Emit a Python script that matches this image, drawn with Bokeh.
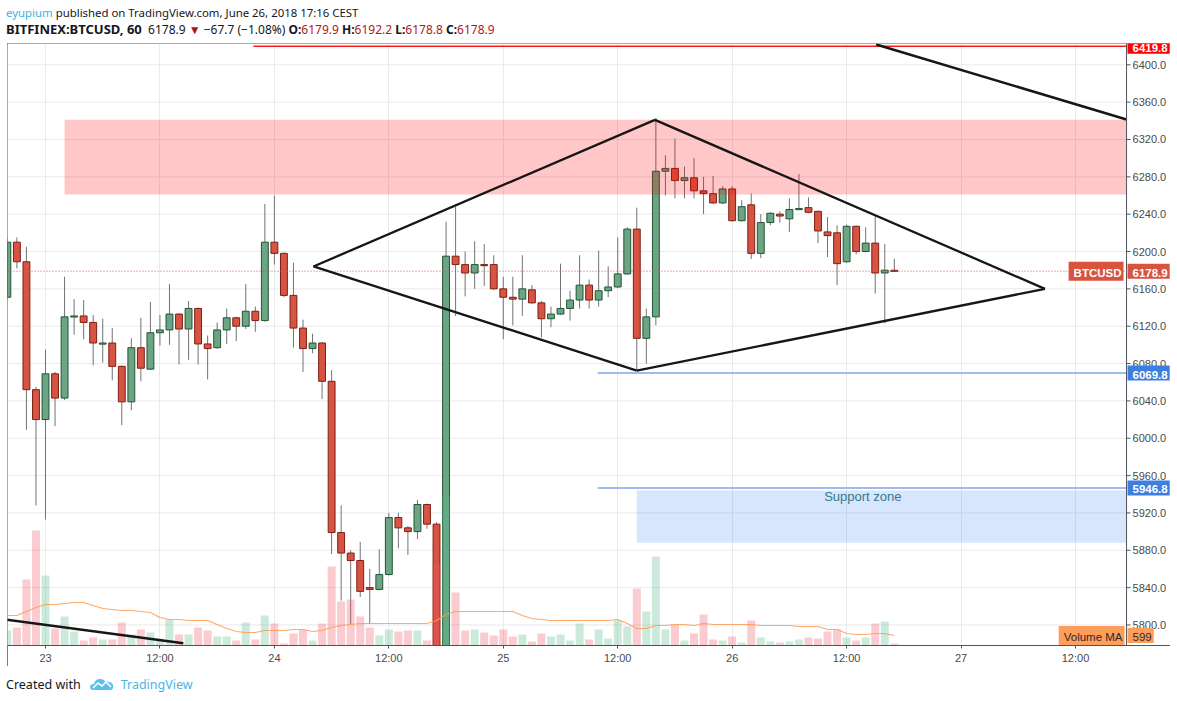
from bokeh.plotting import figure
from bokeh.models import (Range1d, FixedTicker, Label, Div, ColumnDataSource, Span)
from bokeh.layouts import column
from bokeh.embed import file_html
from bokeh.resources import INLINE
from bokeh.core.properties import value

# ---------------- data (hours counted from June 23, 00:00) ----------------
hours = list(range(-4, 90))
opens = [6151, 6210, 6189, 6052, 6020, 6069, 6043, 6130, 6131, 6124, 6101, 6102, 6077, 6039,
         6097, 6074, 6113, 6116, 6133, 6117, 6139, 6101, 6097, 6116, 6129, 6120, 6136, 6126,
         6210, 6198, 6153, 6118, 6096, 6102, 6061, 5899, 5877, 5869, 5840, 5838, 5854, 5915,
         5904, 5900, 5929, 5908, 5760, 6195, 6186, 6177, 6186, 6186, 6160, 6151, 6149, 6159,
         6145, 6128, 6133, 6139, 6148, 6164, 6148, 6158, 6162, 6176, 6224, 6107, 6130, 6286,
         6289, 6276, 6279, 6265, 6262, 6252, 6267, 6233, 6250, 6198, 6231, 6240, 6235, 6245,
         6247, 6243, 6221, 6220, 6189, 6227, 6200, 6209, 6177, 6179.9]
highs = [6215, 6215, 6205, 6055, 6095, 6071, 6173, 6149, 6148, 6132, 6128, 6118, 6078, 6107,
         6129, 6146, 6132, 6165, 6134, 6147, 6140, 6110, 6124, 6139, 6130, 6165, 6141, 6251,
         6260, 6199, 6188, 6127, 6112, 6103, 6073, 5928, 5880, 5889, 5860, 5881, 5920, 5920,
         5906, 5934, 5930, 5910, 6232, 6248, 6200, 6211, 6208, 6196, 6173, 6173, 6196, 6164,
         6147, 6141, 6187, 6158, 6196, 6170, 6201, 6184, 6215, 6226, 6247, 6139, 6343, 6303,
         6321, 6291, 6300, 6280, 6281, 6270, 6270, 6255, 6262, 6240, 6242, 6243, 6257, 6283,
         6258, 6244, 6237, 6228, 6229, 6228, 6226, 6239, 6208, 6192.2]
lows = [6148, 6182, 6009, 5928, 5913, 6013, 6041, 6111, 6106, 6078, 6081, 6062, 6014, 6030,
        6061, 6073, 6099, 6100, 6079, 6084, 6079, 6063, 6096, 6101, 6104, 6117, 6114, 6125,
        6186, 6151, 6097, 6071, 6091, 6042, 5876, 5826, 5801, 5830, 5801, 5837, 5853, 5882,
        5875, 5892, 5903, 5750, 5755, 6131, 6152, 6160, 6163, 6159, 6106, 6121, 6131, 6144,
        6108, 6119, 6132, 6126, 6139, 6139, 6141, 6151, 6161, 6175, 6073, 6080, 6121, 6260,
        6257, 6257, 6257, 6240, 6251, 6251, 6232, 6232, 6192, 6193, 6228, 6231, 6221, 6245,
        6241, 6209, 6194, 6164, 6188, 6197, 6199, 6155, 6123, 6178.8]
closes = [6210, 6189, 6052, 6020, 6069, 6043, 6130, 6131, 6124, 6102, 6102, 6077, 6039, 6097,
          6075, 6113, 6116, 6133, 6117, 6139, 6101, 6096, 6116, 6129, 6120, 6136, 6126, 6210,
          6198, 6153, 6118, 6096, 6102, 6061, 5899, 5877, 5869, 5836, 5838, 5854, 5915, 5904,
          5900, 5929, 5908, 5760, 6195, 6186, 6177, 6186, 6185, 6160, 6151, 6149, 6160, 6145,
          6128, 6133, 6139, 6148, 6164, 6148, 6158, 6162, 6176, 6224, 6107, 6130, 6286, 6289,
          6276, 6279, 6265, 6262, 6252, 6267, 6233, 6248, 6198, 6231, 6241, 6238, 6245, 6246,
          6242, 6222, 6217, 6187, 6227, 6200, 6209, 6177, 6180, 6178.9]
volumes = [900, 1080, 3960, 6900, 4200, 1020, 1740, 840, 300, 480, 360, 360, 1380, 660,
           960, 780, 420, 1560, 660, 660, 1080, 900, 540, 540, 300, 1380, 360, 1800,
           1320, 120, 720, 960, 300, 1320, 4740, 2640, 2760, 1740, 1080, 600, 960, 840,
           900, 900, 300, 4920, 8940, 3180, 900, 960, 780, 600, 960, 540, 660, 240,
           720, 540, 660, 300, 1320, 360, 960, 420, 1500, 1140, 3420, 2040, 5340, 960,
           1260, 300, 720, 1860, 360, 300, 540, 180, 1500, 480, 240, 180, 240, 360,
           480, 420, 840, 960, 480, 300, 480, 1320, 1440, 120]
volume_ma = [1800, 1800, 2040, 2280, 2460, 2460, 2520, 2580, 2580, 2400, 2220, 2160, 2100, 2100,
             2040, 1980, 1680, 1560, 1560, 1500, 1500, 1500, 1260, 1020, 840, 780, 780, 900,
             900, 900, 960, 960, 840, 900, 1080, 1200, 1260, 1320, 1320, 1320, 1320, 1320,
             1320, 1320, 1320, 1500, 1860, 2040, 2040, 2040, 2040, 2040, 2040, 2040, 1800, 1620,
             1560, 1500, 1500, 1500, 1500, 1500, 1500, 1500, 1560, 1320, 1020, 1020, 1200, 1200,
             1260, 1260, 1200, 1320, 1260, 1260, 1260, 1260, 1260, 1200, 1200, 1200, 1200, 1140,
             1140, 1140, 960, 960, 720, 660, 660, 720, 720, 599]

tick_hours = [0, 12, 24, 36, 48, 60, 72, 84, 96, 108]
tick_labels = ["23", "12:00", "24", "12:00", "25", "12:00", "26", "12:00", "27", "12:00"]
price_ticks = list(range(5800, 6401, 40))
price_labels = [f"{t:.1f}" for t in price_ticks]

# drawings (hour, price)
resistance_zone = dict(left=[2.0], bottom=[6261], top=[6341])
support_zone = dict(left=[62.0], bottom=[5888], top=[5944])
diamond_x0 = [28.1, 63.9, 28.1, 62.0]
diamond_y0 = [6184, 6341, 6184, 6072.5]
diamond_x1 = [63.9, 104.8, 62.0, 104.8]
diamond_y1 = [6341, 6160, 6072.5, 6160]
trend_x0 = [87.1, -5.0]
trend_y0 = [6421.7, 5806.9]
trend_x1 = [113.35, 14.45]
trend_y1 = [6341.4, 5780.5]
ray_start = [21.8, 57.9, 57.9]
ray_price = [6419.8, 6069.8, 5946.8]
ray_color = ["#ff1a1a", "#9fbbef", "#9fbbef"]
ray_width = [1.5, 2, 2]
last_price = 6178.9

PX_PER_HOUR = 9.537
x_start, x_end = -3.984, 117.96      # frame spans chart + price-scale column
axis_x = 113.35                      # position of the price scale line
y_start, y_end = 5778.0, 6422.8
FRAME_W, FRAME_H = 1163, 602
vol_end = FRAME_H * 60

# ---------------- figure ----------------
p = figure(frame_width=FRAME_W, frame_height=FRAME_H, output_backend="svg",
           toolbar_location=None, x_range=Range1d(x_start, x_end),
           y_range=Range1d(y_start, y_end), y_axis_location=None,
           min_border_left=0, min_border_top=0, min_border_right=0, min_border_bottom=19,
           background_fill_color="white", border_fill_color="white")
p.margin = (0, 0, 0, 7)
p.outline_line_color = None
p.extra_y_ranges = {"vol": Range1d(0, vol_end)}
p.styles = {"outline": "1px solid #50535e", "outline-offset": "-1px"}

AXIS_FONT = "Liberation Sans"
xa = p.xaxis[0]
xa.ticker = FixedTicker(ticks=tick_hours)
xa.major_label_overrides = dict(zip(tick_hours, tick_labels))
xa.axis_line_color = "#50535e"
xa.major_tick_line_color = "#50535e"
xa.major_tick_out = 3
xa.major_tick_in = 0
xa.minor_tick_line_color = None
xa.major_label_text_font = AXIS_FONT
xa.major_label_text_font_size = "11px"
xa.major_label_text_color = "#4a4a4a"
xa.major_label_standoff = 3
p.xgrid.ticker = FixedTicker(ticks=tick_hours)
p.xgrid.grid_line_color = "#e9eaec"
p.ygrid.visible = False

# horizontal grid (stops at the price scale)
hg = p.segment(x0=[x_start] * len(price_ticks), y0=price_ticks,
               x1=[axis_x] * len(price_ticks), y1=price_ticks,
               line_color="#e9eaec", line_width=1)
hg.level = "underlay"

up = [c >= o for o, c in zip(opens, closes)]
body_top = [max(o, c) for o, c in zip(opens, closes)]
body_bot = [min(o, c) if abs(o - c) > 1.2 else max(o, c) - 1.2 for o, c in zip(opens, closes)]
src = ColumnDataSource(dict(
    x=hours, o=opens, h=highs, l=lows, c=closes, top=body_top, bot=body_bot,
    fill=["#6ba583" if u else "#d75442" for u in up],
    edge=["#225437" if u else "#7c1f14" for u in up],
    vol=volumes,
    vfill=["#53b987" if u else "#f0555f" for u in up],
))

p.segment("x", "l", "x", "h", source=src, line_color="#737375", line_width=1)
p.vbar(x="x", top="top", bottom="bot", width=0.72, source=src,
       fill_color="fill", line_color="edge", line_width=1)
p.vbar(x="x", top="vol", bottom=0, width=0.84, source=src, y_range_name="vol",
       fill_color="vfill", fill_alpha=0.3, line_color=None)
p.line(hours, volume_ma, y_range_name="vol", line_color="#ff9a52", line_width=1.2, line_alpha=0.85)

# zones
p.quad(left=resistance_zone["left"], right=[axis_x], bottom=resistance_zone["bottom"],
       top=resistance_zone["top"], fill_color="#ff0000", fill_alpha=0.22, line_color=None)
p.quad(left=support_zone["left"], right=[axis_x], bottom=support_zone["bottom"],
       top=support_zone["top"], fill_color="#4285f4", fill_alpha=0.21, line_color=None)
p.text(x=[85.7], y=[5938], text=["Support zone"], text_align="center", text_baseline="middle",
       text_font=value("Liberation Sans"), text_font_size="13px", text_color="#2e7d8e")

# last price dotted line
p.segment(x0=[x_start], y0=[last_price], x1=[axis_x], y1=[last_price], line_color="#e2553f",
          line_dash="1 2", line_width=1)

# horizontal rays
p.segment(x0=ray_start, y0=ray_price, x1=[axis_x] * len(ray_start), y1=ray_price,
          line_color=ray_color, line_width=ray_width)

# black drawings
p.segment(x0=diamond_x0, y0=diamond_y0, x1=diamond_x1, y1=diamond_y1,
          line_color="#161616", line_width=2.3)
p.segment(x0=trend_x0, y0=trend_y0, x1=trend_x1, y1=trend_y1,
          line_color="#161616", line_width=2.5)

# ---------------- price scale (right column) ----------------
p.add_layout(Span(location=axis_x, dimension="height", line_color="#50535e", line_width=1))
p.segment(x0=[axis_x] * len(price_ticks), y0=price_ticks,
          x1=[axis_x + 4 / PX_PER_HOUR] * len(price_ticks), y1=price_ticks,
          line_color="#50535e", line_width=1)
p.text(x=[axis_x] * len(price_ticks), y=price_ticks, text=price_labels, x_offset=6,
       text_align="left", text_baseline="middle", text_font=value(AXIS_FONT),
       text_font_size="11px", text_color="#4a4a4a")


def badge(y, text, bg, fg, align="left", x_off=0, y_range_name="default", bold=True):
    lab = Label(x=axis_x, y=y, text=text, text_align=align, text_baseline="middle",
                x_offset=x_off, text_font=AXIS_FONT, text_font_size="11.5px",
                text_color=fg, background_fill_color=bg, background_fill_alpha=1.0,
                padding=(5, 2, 5, 2), text_font_style="bold" if bold else "normal")
    if y_range_name != "default":
        lab.y_range_name = y_range_name
    p.add_layout(lab)


badge(ray_price[0], "6419.8", "#ff0000", "white", x_off=1)
badge(last_price, "6178.9", "#d9533f", "white", x_off=1)
badge(last_price, "BTCUSD", "#d9533f", "white", align="right", x_off=-3)
badge(ray_price[1], "6069.8", "#3d7fe0", "white", x_off=1)
badge(ray_price[2], "5946.8", "#3d7fe0", "white", x_off=1)
badge(volume_ma[-1], "Volume MA", "#ff9d5a", "#2a2a2a", align="right", x_off=-2,
      y_range_name="vol", bold=False)
badge(volume_ma[-1], "599", "#ff9d5a", "#2a2a2a", x_off=1, y_range_name="vol", bold=False)

# ---------------- header / footer ----------------
author = "eyupium"
published = " published on TradingView.com, June 26, 2018 17:16 CEST"
symbol = "BITFINEX:BTCUSD, 60"
header_html = (
    '<div style="font-family:\'Noto Sans\';color:#131722;line-height:17px;'
    'margin:4px 0 0 6px;white-space:nowrap;">'
    f'<div style="font-size:11.4px"><span style="color:#3bb3e4">{author}</span>{published}</div>'
    '<div style="font-size:12px">'
    f'<b style="font-size:13px">{symbol}</b>&nbsp; 6178.9 <span style="color:#a3171b">&#9660;</span> '
    '&minus;67.7 (&minus;1.08%) '
    '<b>O:</b><span style="color:#b3161b">6179.9</span> '
    '<b>H:</b><span style="color:#b3161b">6192.2</span> '
    '<b>L:</b><span style="color:#b3161b">6178.8</span> '
    '<b>C:</b><span style="color:#b3161b">6178.9</span></div></div>'
)
header = Div(text=header_html, width=1170, height=43, margin=(0, 0, 0, 0))

logo = ('<svg width="24" height="14" viewBox="0 0 24 14" style="vertical-align:-2px;margin:0 7px 0 9px">'
        '<path d="M3 13 Q0 13 0 10 Q0 7 4 7 Q5 2 10 2 Q14 2 15.5 5 Q17 4 19 5 Q22 5 23 8 Q24 13 20 13 Z" '
        'fill="#5ec0ea"/><polyline points="3,11 8,6 12,9 16,5 21,10" stroke="white" '
        'stroke-width="1.6" fill="none"/></svg>')
footer_html = (
    '<div style="font-family:\'Noto Sans\';font-size:12.5px;color:#131722;line-height:18px;'
    'margin:10px 0 0 6px;white-space:nowrap;">Created with'
    f'{logo}<span style="color:#4db3e6">TradingView</span></div>'
)
footer = Div(text=footer_html, width=1170, height=36, margin=(0, 0, 0, 0))

layout = column(header, p, footer, spacing=0)
html = file_html(layout, INLINE, title="BTCUSD")
html = html.replace("<body>", '<body style="background-color:#f0f3f6;">', 1)
open("out.html", "w").write(html)
